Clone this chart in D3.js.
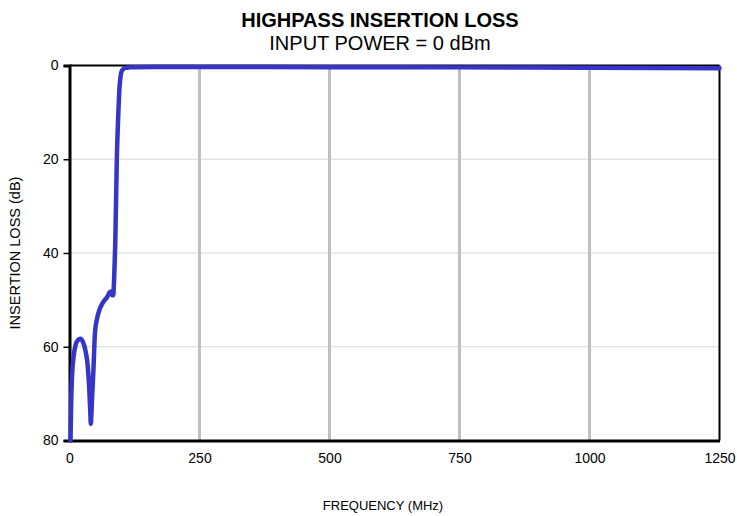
<!DOCTYPE html>
<html>
<head>
<meta charset="utf-8">
<script src="https://cdn.jsdelivr.net/npm/d3@7"></script>
<style>
  body { margin: 0; background: #fff; }
  text { font-family: "Liberation Sans", Arial, sans-serif; fill: #000; }
</style>
</head>
<body>
<svg id="chart" width="737" height="516"></svg>
<script>
// Curve: frequency (MHz) and insertion loss (dB)
var freq = [2, 3, 5, 8, 12, 16, 21, 26, 31, 35, 38, 40, 41, 43, 46, 49, 53, 58, 63, 68, 73, 77, 80, 82, 84, 86, 88, 91, 94, 96, 98, 100, 103, 107, 115, 130, 160, 200, 300, 500, 750, 1000, 1250];
var loss = [80, 73, 66, 62, 59.5, 58.6, 58.3, 59, 61, 64, 69, 74, 76.4, 72, 65, 57, 54, 52, 50.8, 50, 49.3, 48.4, 48.2, 49, 49, 45, 38, 20, 10, 5, 2.5, 1.3, 0.8, 0.5, 0.4, 0.35, 0.3, 0.3, 0.3, 0.35, 0.4, 0.5, 0.6];
var xTicks = [0, 250, 500, 750, 1000, 1250];
var yTicks = [0, 20, 40, 60, 80];

var svg = d3.select('#chart');
var x = d3.scaleLinear().domain([0, 1250]).range([69.5, 719.5]);
var y = d3.scaleLinear().domain([0, 80]).range([65.5, 440.5]);

// Gridlines
svg.append('g').selectAll('line')
    .data(yTicks.slice(1, -1)).enter()
    .append('line')
    .attr('x1', x(0)).attr('x2', x(1250))
    .attr('y1', function(d){ return y(d); })
    .attr('y2', function(d){ return y(d); })
    .attr('stroke', '#d9d9d9').attr('stroke-width', 1);

svg.append('g').selectAll('line')
    .data(xTicks.slice(1, -1)).enter()
    .append('line')
    .attr('x1', function(d){ return x(d); })
    .attr('x2', function(d){ return x(d); })
    .attr('y1', y(0)).attr('y2', y(80))
    .attr('stroke', '#c0c0c0').attr('stroke-width', 3);

// Frame: thin top and right, heavy left and bottom
svg.append('line').attr('x1', x(0)).attr('x2', x(1250)).attr('y1', y(0)).attr('y2', y(0))
    .attr('stroke', '#000').attr('stroke-width', 2);
svg.append('line').attr('x1', x(1250)).attr('x2', x(1250)).attr('y1', y(0)).attr('y2', y(80))
    .attr('stroke', '#000').attr('stroke-width', 2);

var yAxis = svg.append('g')
    .attr('transform', 'translate(' + x(0) + ',0)')
    .call(d3.axisLeft(y).tickValues(yTicks).tickSize(6).tickPadding(5));
var xAxis = svg.append('g')
    .attr('transform', 'translate(0,' + y(80) + ')')
    .call(d3.axisBottom(x).tickValues(xTicks).tickFormat(d3.format('d'))
        .tickSize(0).tickPadding(13));

[yAxis, xAxis].forEach(function(ax){
    ax.select('.domain').attr('stroke', '#000').attr('stroke-width', 3);
    ax.selectAll('.tick line').attr('stroke', '#000').attr('stroke-width', 1.5);
    ax.selectAll('.tick text').style('font-size', '14px')
        .style('font-family', '"Liberation Sans", Arial, sans-serif');
});

// The curve
var line = d3.line()
    .x(function(d){ return x(d[0]); })
    .y(function(d){ return y(d[1]); })
    .curve(d3.curveMonotoneX);

svg.append('path')
    .datum(d3.zip(freq, loss))
    .attr('d', line)
    .attr('fill', 'none')
    .attr('stroke', '#3535c8')
    .attr('stroke-width', 4.5)
    .attr('stroke-linejoin', 'round')
    .attr('stroke-linecap', 'round');

// Titles
svg.append('text').attr('x', 380).attr('y', 27)
    .attr('text-anchor', 'middle')
    .style('font-size', '20px').style('font-weight', 'bold')
    .text('HIGHPASS INSERTION LOSS');
svg.append('text').attr('x', 380).attr('y', 50)
    .attr('text-anchor', 'middle')
    .style('font-size', '20px')
    .text('INPUT POWER = 0 dBm');

svg.append('text').attr('x', 383).attr('y', 510)
    .attr('text-anchor', 'middle')
    .style('font-size', '13px')
    .text('FREQUENCY (MHz)');
svg.append('text')
    .attr('transform', 'translate(20,' + ((y(0) + y(80)) / 2) + ') rotate(-90)')
    .attr('text-anchor', 'middle')
    .style('font-size', '14.5px')
    .text('INSERTION LOSS (dB)');
</script>
</body>
</html>
